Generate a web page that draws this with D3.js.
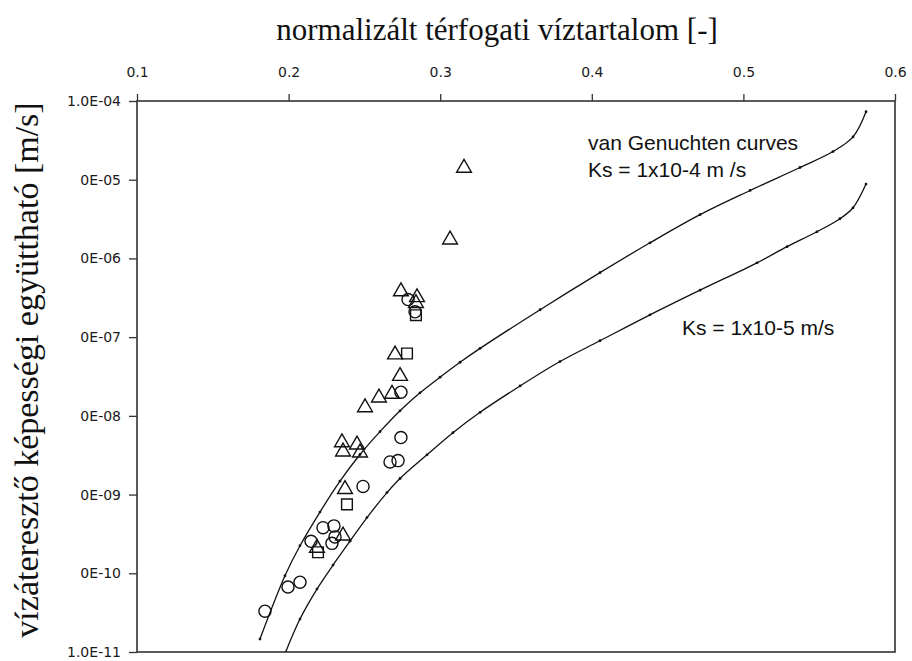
<!DOCTYPE html>
<html>
<head>
<meta charset="utf-8">
<script src="https://cdn.jsdelivr.net/npm/d3@7"></script>
<style>
	body { margin: 0; background: #fff; }
	svg { display: block; }
</style>
</head>
<body>
<div id="chart"></div>
<script>
// tick values / labels
const thetaTicks = [0.1, 0.2, 0.3, 0.4, 0.5, 0.6];
const kTicks = [1e-4, 1e-5, 1e-6, 1e-7, 1e-8, 1e-9, 1e-10, 1e-11];
const kLabels = ["1.0E-04", "1.0E-05", "1.0E-06", "1.0E-07", "1.0E-08", "1.0E-09", "1.0E-10", "1.0E-11"];

// van Genuchten curve, Ks = 1e-4
const upperTheta = [0.1811, 0.1976, 0.2075, 0.2207, 0.2339, 0.2471, 0.2603, 0.2735, 0.2867, 0.2999, 0.3131, 0.3263, 0.3659, 0.4054, 0.4384, 0.4714, 0.5044, 0.5373, 0.5591, 0.5723, 0.5809];
const upperK = [1.46e-11, 9.3e-11, 2.24e-10, 6.0e-10, 1.48e-9, 3.23e-9, 6.3e-9, 1.16e-8, 1.96e-8, 3.1e-8, 4.8e-8, 7.2e-8, 2.23e-7, 6.6e-7, 1.58e-6, 3.6e-6, 7.3e-6, 1.43e-5, 2.28e-5, 3.5e-5, 7.3e-5];

// van Genuchten curve, Ks = 1e-5
const lowerTheta = [0.197, 0.2075, 0.2187, 0.2293, 0.2405, 0.2517, 0.2649, 0.2735, 0.2913, 0.3084, 0.3263, 0.3527, 0.379, 0.4054, 0.4384, 0.4714, 0.509, 0.5288, 0.5485, 0.5637, 0.5723, 0.5809];
const lowerK = [8.9e-12, 2.62e-11, 6.3e-11, 1.27e-10, 2.56e-10, 5.1e-10, 1.06e-9, 1.6e-9, 3.2e-9, 6.1e-9, 1.11e-8, 2.4e-8, 4.9e-8, 9.0e-8, 1.92e-7, 3.95e-7, 8.8e-7, 1.41e-6, 2.18e-6, 3.19e-6, 4.4e-6, 8.8e-6];

// measured points
const triTheta = [0.3157, 0.3065, 0.2741, 0.2847, 0.284, 0.2702, 0.2735, 0.2596, 0.2682, 0.2504, 0.2352, 0.2359, 0.2451, 0.2471, 0.2372, 0.2359, 0.2187];
const triK = [1.41e-5, 1.73e-6, 3.8e-7, 3.2e-7, 2.7e-7, 6.0e-8, 3.2e-8, 1.7e-8, 1.9e-8, 1.28e-8, 4.6e-9, 3.5e-9, 4.3e-9, 3.4e-9, 1.17e-9, 3.0e-10, 2.1e-10];

const circTheta = [0.2788, 0.2834, 0.2741, 0.2741, 0.2669, 0.2722, 0.2491, 0.2227, 0.2299, 0.2306, 0.2286, 0.2148, 0.2075, 0.1996, 0.1844];
const circK = [3.0e-7, 2.1e-7, 2.0e-8, 5.3e-9, 2.6e-9, 2.7e-9, 1.27e-9, 3.8e-10, 4.0e-10, 2.9e-10, 2.4e-10, 2.55e-10, 7.7e-11, 6.7e-11, 3.3e-11];

const sqTheta = [0.2781, 0.284, 0.2385, 0.2194];
const sqK = [6.2e-8, 1.9e-7, 7.5e-10, 1.85e-10];

const width = 912;
const height = 661;
const margin = { top: 101, right: 17, bottom: 9, left: 137 };

const svg = d3
	.select("#chart")
	.append("svg")
	.attr("width", width)
	.attr("height", height);

const x = d3.scaleLinear().domain([0.1, 0.6]).range([margin.left, width - margin.right]);
const y = d3.scaleLog().domain([1e-11, 1e-4]).range([height - margin.bottom, margin.top]);

svg.append("defs")
	.append("clipPath")
	.attr("id", "plot-clip")
	.append("rect")
	.attr("x", margin.left)
	.attr("y", margin.top)
	.attr("width", width - margin.left - margin.right)
	.attr("height", height - margin.top - margin.bottom);

// axes
const xAxis = svg
	.append("g")
	.attr("transform", `translate(0,${margin.top})`)
	.call(d3.axisTop(x).tickValues(thetaTicks).tickFormat(d3.format(".1f")).tickSize(7).tickPadding(17));

const yAxis = svg
	.append("g")
	.attr("transform", `translate(${margin.left},0)`)
	.call(d3.axisLeft(y).tickValues(kTicks).tickFormat((d, i) => kLabels[i]).tickSize(8).tickPadding(8));

[xAxis, yAxis].forEach((g) => {
	g.select(".domain").remove();
	g.selectAll(".tick line").attr("stroke", "#333").attr("stroke-width", 1.3);
	g.selectAll(".tick text")
		.attr("fill", "#1a1a1a")
		.style("font-family", "'DejaVu Sans', sans-serif")
		.style("font-size", "14px");
});

svg.append("rect")
	.attr("x", margin.left)
	.attr("y", margin.top)
	.attr("width", width - margin.left - margin.right)
	.attr("height", height - margin.top - margin.bottom)
	.attr("fill", "none")
	.attr("stroke", "#333")
	.attr("stroke-width", 1.6);

// curves
const line = d3
	.line()
	.x((d) => x(d[0]))
	.y((d) => y(d[1]))
	.curve(d3.curveCatmullRom);

const curves = [d3.zip(upperTheta, upperK), d3.zip(lowerTheta, lowerK)];

const curveG = svg.append("g").attr("clip-path", "url(#plot-clip)");

curves.forEach((c) => {
	curveG.append("path")
		.attr("d", line(c))
		.attr("fill", "none")
		.attr("stroke", "#111")
		.attr("stroke-width", 1.3);

	curveG.selectAll(null)
		.data(c)
		.enter()
		.append("circle")
		.attr("cx", (d) => x(d[0]))
		.attr("cy", (d) => y(d[1]))
		.attr("r", 1.4)
		.attr("fill", "#111");
});

// measured points
const markers = [
	{ theta: triTheta, k: triK, type: d3.symbolTriangle, size: 95 },
	{ theta: circTheta, k: circK, type: d3.symbolCircle, size: 115 },
	{ theta: sqTheta, k: sqK, type: d3.symbolSquare, size: 115 },
];

markers.forEach((m) => {
	svg.append("g")
		.selectAll("path")
		.data(d3.zip(m.theta, m.k))
		.enter()
		.append("path")
		.attr("d", d3.symbol().type(m.type).size(m.size))
		.attr("transform", (d) => `translate(${x(d[0])},${y(d[1])})`)
		.attr("fill", "none")
		.attr("stroke", "#111")
		.attr("stroke-width", 1.4);
});

// annotations
const noteFont = "Arial, 'Liberation Sans', sans-serif";
svg.append("text").attr("x", 588).attr("y", 150).style("font-family", noteFont).style("font-size", "21px").attr("fill", "#111").text("van Genuchten curves");
svg.append("text").attr("x", 588).attr("y", 177).style("font-family", noteFont).style("font-size", "21px").attr("fill", "#111").text("Ks = 1x10-4 m /s");
svg.append("text").attr("x", 682).attr("y", 335).style("font-family", noteFont).style("font-size", "21px").attr("fill", "#111").text("Ks = 1x10-5 m/s");

// titles
svg.append("text")
	.attr("x", 497)
	.attr("y", 40)
	.attr("text-anchor", "middle")
	.style("font-family", "'Liberation Serif', 'Times New Roman', serif")
	.style("font-size", "31px")
	.attr("fill", "#111")
	.text("normalizált térfogati víztartalom [-]");

svg.append("rect")
	.attr("x", 0)
	.attr("y", 110)
	.attr("width", 80)
	.attr("height", 530)
	.attr("fill", "#fff");

svg.append("text")
	.attr("transform", "translate(38,370) rotate(-90)")
	.attr("text-anchor", "middle")
	.style("font-family", "'Liberation Serif', 'Times New Roman', serif")
	.style("font-size", "34px")
	.attr("fill", "#111")
	.text("vízáteresztő képességi együttható [m/s]");
</script>
</body>
</html>
